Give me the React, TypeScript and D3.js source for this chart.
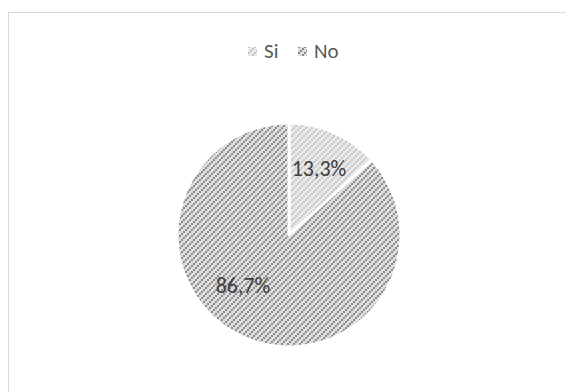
import React from "react";
import * as d3 from "d3";

const categories = ["Si", "No"];
const values = [13.3, 86.7];
const labels = ["13,3%", "86,7%"];

const W = 566;
const H = 392;
const cx = 289;
const cy = 235;
const R = 112;

const bgColors = ["#ebebeb", "#dedede"];
const fgColors = ["#c4c4c4", "#8a8a8a"];

export default function App() {
  const pie = d3.pie<number>().sort(null).value((d) => d)(values);
  const arc = d3.arc<d3.PieArcDatum<number>>().innerRadius(0).outerRadius(R);
  const font = "Carlito, Calibri, Lato, sans-serif";
  const legendX = d3.scalePoint<string>().domain(categories).range([248, 298]);
  const labelPos = [
    { x: 319, y: 176 },
    { x: 243, y: 293 },
  ];
  return (
    <svg
      width={W}
      height={H}
      style={{ position: "absolute", left: 0, top: 0, background: "#fff" }}
    >
      <defs>
        {categories.map((c, i) => (
          <pattern
            key={c}
            id={`pat${i}`}
            width={6}
            height={6}
            patternUnits="userSpaceOnUse"
          >
            <rect width={6} height={6} fill={bgColors[i]} />
            <rect x={0} y={4} width={2} height={2} fill={fgColors[i]} />
            <rect x={2} y={2} width={2} height={2} fill={fgColors[i]} />
            <rect x={4} y={0} width={2} height={2} fill={fgColors[i]} />
          </pattern>
        ))}
      </defs>
      <rect x={8.5} y={12.5} width={620} height={420} fill="none" stroke="#d9d9d9" />
      <g transform={`translate(${cx},${cy})`}>
        {pie.map((d, i) => (
          <path
            key={i}
            d={arc(d) || ""}
            fill={`url(#pat${i})`}
            stroke="#fff"
            strokeWidth={3}
            strokeLinejoin="round"
          />
        ))}
      </g>
      {labels.map((l, i) => (
        <text
          key={l}
          x={labelPos[i].x}
          y={labelPos[i].y}
          textAnchor="middle"
          fontFamily={font}
          fontSize={22}
          fill="#404040"
        >
          {l}
        </text>
      ))}
      {categories.map((c, i) => (
        <g key={c} transform={`translate(${legendX(c)},0)`}>
          <rect x={0} y={47} width={9} height={9} fill={`url(#pat${i})`} />
          <text x={16} y={58} fontFamily={font} fontSize={21} fill="#595959">
            {c}
          </text>
        </g>
      ))}
    </svg>
  );
}
